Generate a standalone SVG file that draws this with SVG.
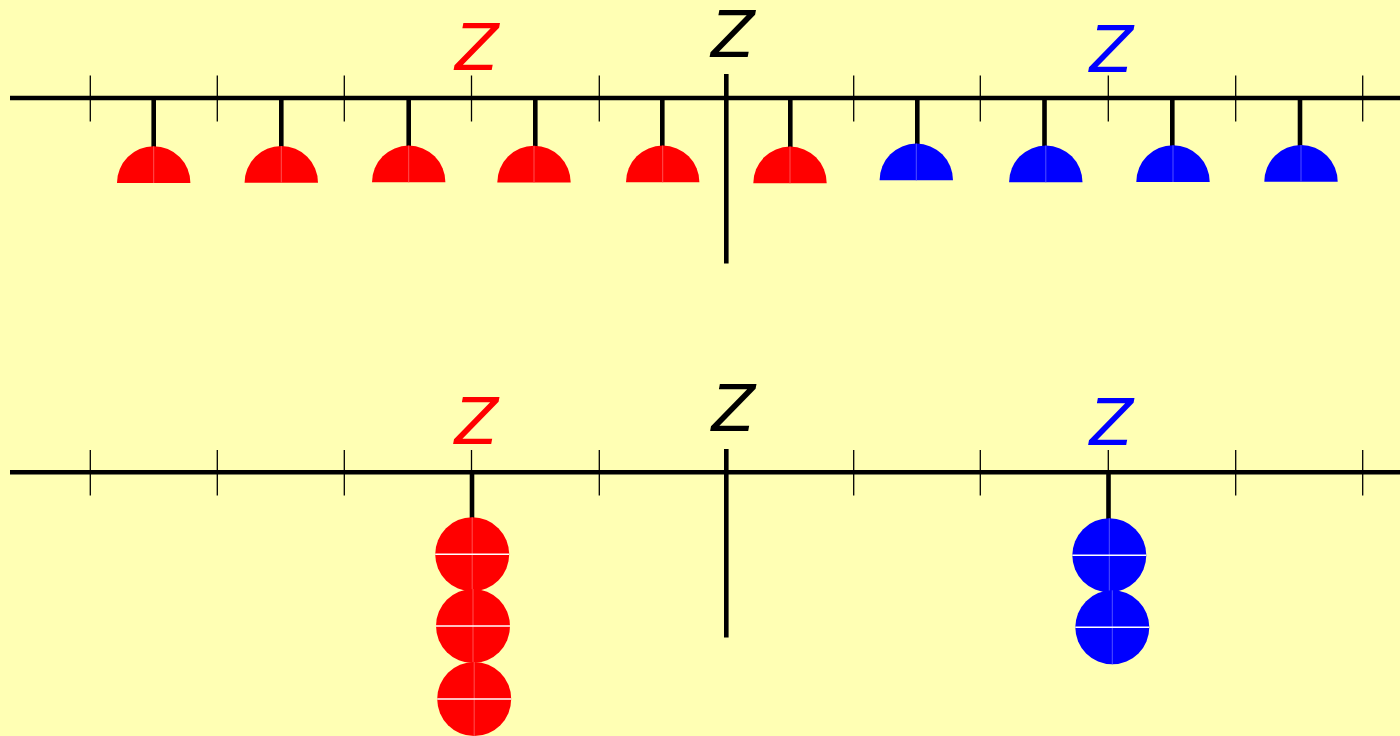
<svg xmlns="http://www.w3.org/2000/svg" width="1400" height="736" viewBox="0 0 1400 736">
<style>
.axis{stroke:#000;stroke-width:4.6;fill:none}
.tick{stroke:#000;stroke-width:1.3}
.stem{stroke:#000;stroke-width:4.6}
.red{fill:#ff0000}
.blue{fill:#0000ff}
.rseam{stroke:#ff5050;stroke-width:1}
.bseam{stroke:#5050ff;stroke-width:1}
.wseam{stroke:#ffffff;stroke-width:1.4}
.z{font-family:"DejaVu Sans","Liberation Sans",sans-serif;font-style:oblique;font-size:64px;text-anchor:middle}
</style>
<defs>
<g id="semiR"><path class="red" d="M-36.7,0 A36.7,36.7 0 0 1 36.7,0 Z"/><line class="rseam" x1="0" y1="-36.7" x2="0" y2="0"/></g>
<g id="semiB"><path class="blue" d="M-36.7,0 A36.7,36.7 0 0 1 36.7,0 Z"/><line class="bseam" x1="0" y1="-36.7" x2="0" y2="0"/></g>
<g id="circR"><circle class="red" r="37"/><line class="rseam" x1="0" y1="-37" x2="0" y2="37"/><line class="wseam" x1="-37" y1="0" x2="37" y2="0"/></g>
<g id="circB"><circle class="blue" r="37"/><line class="bseam" x1="0" y1="-37" x2="0" y2="37"/><line class="wseam" x1="-37" y1="0" x2="37" y2="0"/></g>
</defs>
<rect width="1400" height="736" fill="#ffffb4"/>

<g id="top-axis">
<line class="axis" x1="10" y1="98" x2="1400" y2="98"/>
<line class="axis" x1="726.3" y1="74" x2="726.3" y2="263.5"/>
<g>
<line class="tick" x1="90.3" y1="75.5" x2="90.3" y2="121.5"/>
<line class="tick" x1="217.3" y1="75.5" x2="217.3" y2="121.5"/>
<line class="tick" x1="344.3" y1="75.5" x2="344.3" y2="121.5"/>
<line class="tick" x1="471.5" y1="75.5" x2="471.5" y2="121.5"/>
<line class="tick" x1="599.3" y1="75.5" x2="599.3" y2="121.5"/>
<line class="tick" x1="853.7" y1="75.5" x2="853.7" y2="121.5"/>
<line class="tick" x1="980.3" y1="75.5" x2="980.3" y2="121.5"/>
<line class="tick" x1="1108.3" y1="75.5" x2="1108.3" y2="121.5"/>
<line class="tick" x1="1235.7" y1="75.5" x2="1235.7" y2="121.5"/>
<line class="tick" x1="1362.7" y1="75.5" x2="1362.7" y2="121.5"/>
</g>
<text class="z" x="477" y="70" fill="#ff0000">Z</text>
<text class="z" x="733" y="57" fill="#000000">Z</text>
<text class="z" x="1111.5" y="71.5" fill="#0000ff">Z</text>
</g>

<g id="top-pendulums">
<g id="p1"><line class="stem" x1="153.7" y1="98" x2="153.7" y2="147"/><use href="#semiR" x="153.7" y="183"/></g>
<g id="p2"><line class="stem" x1="281.3" y1="98" x2="281.3" y2="147"/><use href="#semiR" x="281.3" y="182.7"/></g>
<g id="p3"><line class="stem" x1="408.7" y1="98" x2="408.7" y2="147"/><use href="#semiR" x="408.7" y="182.3"/></g>
<g id="p4"><line class="stem" x1="535.3" y1="98" x2="535.3" y2="147"/><use href="#semiR" x="534" y="182.5"/></g>
<g id="p5"><line class="stem" x1="662.3" y1="98" x2="662.3" y2="147"/><use href="#semiR" x="662.7" y="182.3"/></g>
<g id="p6"><line class="stem" x1="790.3" y1="98" x2="790.3" y2="147"/><use href="#semiR" x="790" y="183.3"/></g>
<g id="p7"><line class="stem" x1="917.3" y1="98" x2="917.3" y2="145"/><use href="#semiB" x="916.3" y="180.3"/></g>
<g id="p8"><line class="stem" x1="1044.5" y1="98" x2="1044.5" y2="147"/><use href="#semiB" x="1045.8" y="182.3"/></g>
<g id="p9"><line class="stem" x1="1172.3" y1="98" x2="1172.3" y2="147"/><use href="#semiB" x="1173" y="182"/></g>
<g id="p10"><line class="stem" x1="1300" y1="98" x2="1300" y2="147"/><use href="#semiB" x="1301" y="181.7"/></g>
</g>

<g id="bottom-axis">
<line class="axis" x1="10" y1="472.3" x2="1400" y2="472.3"/>
<line class="axis" x1="726.3" y1="449" x2="726.3" y2="637.5"/>
<g>
<line class="tick" x1="90.3" y1="450" x2="90.3" y2="495.5"/>
<line class="tick" x1="217.3" y1="450" x2="217.3" y2="495.5"/>
<line class="tick" x1="344.3" y1="450" x2="344.3" y2="495.5"/>
<line class="tick" x1="471.5" y1="450" x2="471.5" y2="495.5"/>
<line class="tick" x1="599.3" y1="450" x2="599.3" y2="495.5"/>
<line class="tick" x1="853.7" y1="450" x2="853.7" y2="495.5"/>
<line class="tick" x1="980.3" y1="450" x2="980.3" y2="495.5"/>
<line class="tick" x1="1108.3" y1="450" x2="1108.3" y2="495.5"/>
<line class="tick" x1="1235.7" y1="450" x2="1235.7" y2="495.5"/>
<line class="tick" x1="1362.7" y1="450" x2="1362.7" y2="495.5"/>
</g>
<text class="z" x="476.5" y="443.5" fill="#ff0000">Z</text>
<text class="z" x="733.5" y="431" fill="#000000">Z</text>
<text class="z" x="1111.5" y="445" fill="#0000ff">Z</text>
</g>

<g id="red-stack">
<line class="stem" x1="472" y1="472" x2="472" y2="519"/>
<use href="#circR" x="472.2" y="554.3"/>
<use href="#circR" x="473" y="626"/>
<use href="#circR" x="474.2" y="699"/>
</g>

<g id="blue-stack">
<line class="stem" x1="1108.5" y1="472" x2="1108.5" y2="520"/>
<use href="#circB" x="1109.3" y="555.3"/>
<use href="#circB" x="1112.3" y="627.3"/>
</g>
</svg>
